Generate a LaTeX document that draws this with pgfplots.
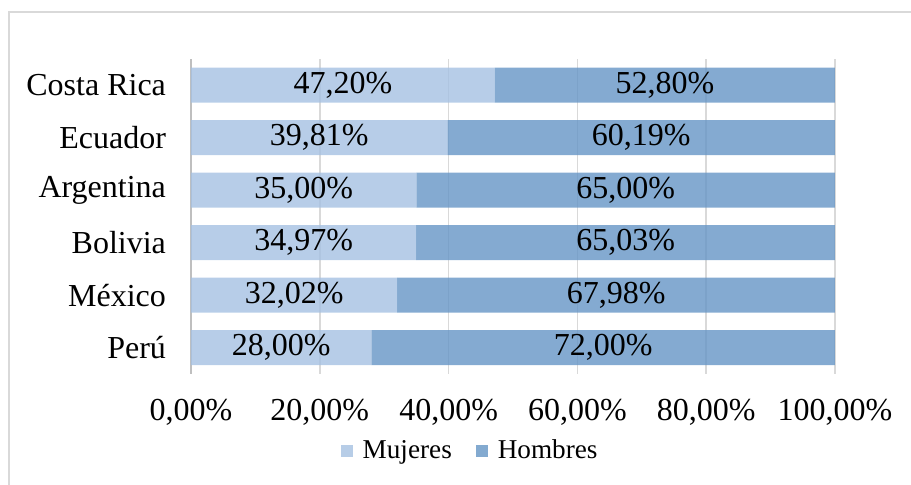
\documentclass[border=0pt]{standalone}
\usepackage{pgfplots}
\pgfplotsset{compat=1.18}
\usepackage{pgfplotstable}
\usepackage{fontspec}
\setmainfont{Liberation Serif}
\definecolor{muj}{HTML}{A5C1E2}
\definecolor{hom}{HTML}{6595C5}
\definecolor{gridc}{HTML}{D9D9D9}
\pgfplotstableread{
y m h
0 28.00 72.00
1 32.02 67.98
2 34.97 65.03
3 35.00 65.00
4 39.81 60.19
5 47.20 52.80
}\data
\begin{document}
\begin{tikzpicture}
\useasboundingbox (-95.5pt,-55.5pt) rectangle (360pt,187pt);
\draw[color=gridc, line width=0.8pt] (-91pt,-60pt) -- (-91pt,181pt) -- (365pt,181pt);
\begin{axis}[
  at={(0,0)}, anchor=south west,
  scale only axis,
  width=322pt, height=157.5pt,
  xbar stacked,
  bar width=17.5pt,
  xmin=0, xmax=100, ymin=-0.5, ymax=5.5,
  ytick={0,1,2,3,4,5},
  yticklabels={Perú, México, Bolivia, Argentina, Ecuador, Costa Rica},
  xtick={0,20,40,60,80,100},
  xticklabels={{0,00\%}, {20,00\%}, {40,00\%}, {60,00\%}, {80,00\%}, {100,00\%}},
  major tick length=0pt,
  xmajorgrids,
  grid style={draw=gridc, line width=0.8pt},
  separate axis lines,
  axis x line*=bottom, axis y line*=left,
  x axis line style={draw=none},
  y axis line style={draw=gray!50, line width=0.8pt},
  tick label style={font=\fontsize{16}{19}\selectfont},
  xticklabel style={yshift=-9pt},
  yticklabel style={xshift=-9pt},
  /pgf/number format/assume math mode=true,
  legend columns=2,
  legend style={draw=none, at={(0.435,-0.244)}, anchor=center,
    font=\fontsize{13.6}{16}\selectfont,
    /tikz/every odd column/.append style={column sep=3pt},
    /tikz/every even column/.append style={column sep=10pt}},
  legend image code/.code={\fill[#1] (0pt,-3pt) rectangle (6pt,3pt);},
  nodes near coords={\pgfmathprintnumber[fixed, fixed zerofill, precision=2, use comma]{\pgfplotspointmeta}\%},
  every node near coord/.append style={font=\fontsize{16}{19}\selectfont, anchor=center},
]
\addplot[fill=muj, draw=none, fill opacity=0.8, text opacity=1,
  point meta=\thisrow{m}]
  table[x=m, y=y] {\data};
\addplot[fill=hom, draw=none, fill opacity=0.8, text opacity=1,
  point meta=\thisrow{h}]
  table[x=h, y=y] {\data};
\legend{Mujeres, Hombres}
\end{axis}
\end{tikzpicture}
\end{document}
